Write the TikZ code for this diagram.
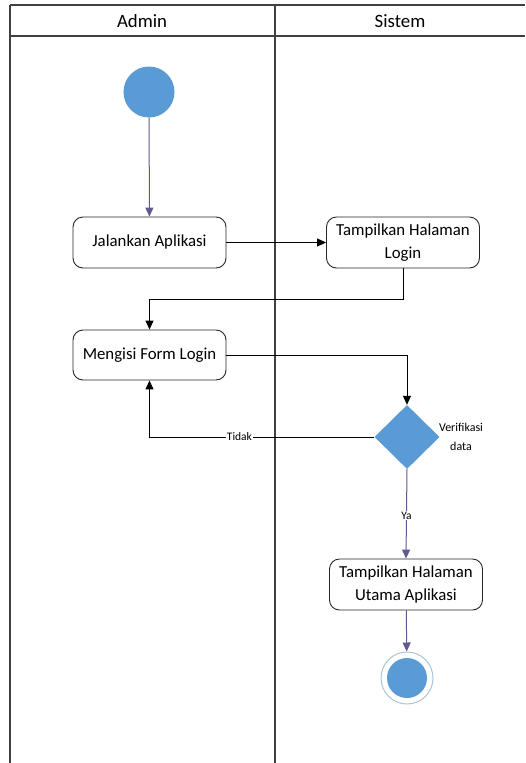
\documentclass[tikz,border=0pt]{standalone}
\usepackage{fontspec}
\setmainfont{Carlito}
\usetikzlibrary{arrows.meta,shapes.geometric}
\definecolor{ublue}{HTML}{5B9BD5}
\definecolor{flowpurple}{HTML}{5E5A8E}
\definecolor{ringcol}{HTML}{A9C6DA}
\begin{document}
\begin{tikzpicture}[x=1pt,y=-1pt,
  lane/.style={line width=1.4pt, draw=black!75},
  act/.style={draw=black!85, line width=0.9pt, rounded corners=10pt, minimum width=153pt, minimum height=51pt, align=center, inner sep=2pt, font=\fontsize{16.8}{23}\selectfont},
  head/.style={font=\fontsize{18.8}{22}\selectfont, inner sep=0pt},
  flow/.style={line width=1pt, draw=black, -{Triangle[length=9pt,width=8pt]}},
  pflow/.style={flow, draw=flowpurple, -{Triangle[length=9pt,width=8pt,fill=flowpurple]}},
  small/.style={font=\fontsize{11.5}{18}\selectfont, inner sep=1pt},
  bluefill/.style={fill=ublue, draw=none, inner sep=0pt}
]
\useasboundingbox (0,0) rectangle (525,763);
% swimlanes
\draw[lane] (10,5) -- (525,5);
\draw[lane] (10,36) -- (525,36);
\draw[lane] (10,5) -- (10,763);
\draw[lane] (275,5) -- (275,763);
\node[head] (hadmin) at (142,21) {Admin};
\node[head] (hsistem) at (400,21) {Sistem};
% nodes
\node[circle, bluefill, minimum size=51pt] (start) at (149,92) {};
\node[act] (jalan) at (149.5,242.5) {Jalankan Aplikasi};
\node[act] (login) at (403,242.5) {Tampilkan Halaman\\Login};
\node[act, minimum height=50pt] (isi) at (149.5,355) {Mengisi Form Login};
\node[diamond, aspect=1, bluefill, minimum width=65pt, minimum height=64pt] (verif) at (407,437) {};
\node[small, align=center, font=\fontsize{12}{19}\selectfont] (vlabel) at (461,437) {Verifikasi\\data};
\node[act] (utama) at (406,584.5) {Tampilkan Halaman\\Utama Aplikasi};
\node[circle, draw=ringcol, line width=1pt, fill=white, minimum size=52pt, inner sep=0pt] (endring) at (407,678) {};
\node[circle, bluefill, minimum size=40pt] (enddot) at (407,678) {};
\coordinate (c1) at (403,299);
% connectors
\draw[pflow] (start) -- (jalan);
\draw[flow] (jalan) -- (login);
\draw[flow] (login.south) -- (c1) -| (isi.north);
\draw[flow] (isi.east) -| (verif.north);
\draw[flow] (verif.west) -| node[pos=0.3, fill=white, small] (tidak) {Tidak} (isi.south);
\draw[pflow] (verif.south) -- node[pos=0.52, fill=white, small] (ya) {Ya} (utama.north);
\draw[pflow] (utama) -- (endring);
\end{tikzpicture}
\end{document}
